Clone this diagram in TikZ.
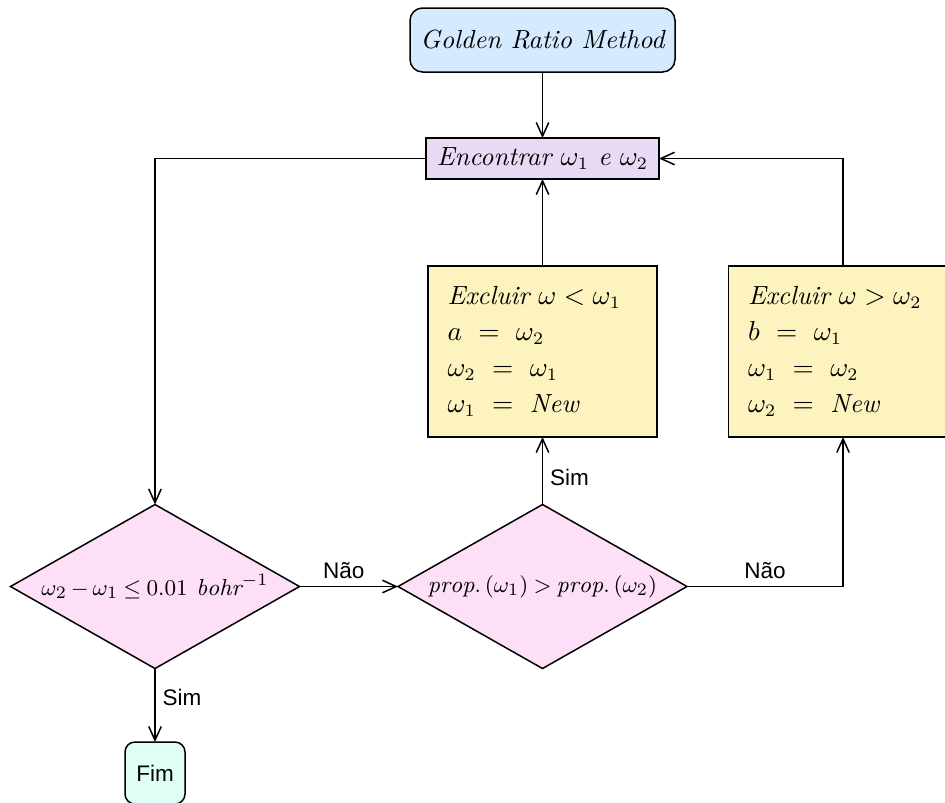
\documentclass[tikz,border=0pt]{standalone}
\usepackage{fontspec}
\setsansfont{Liberation Sans}
\usetikzlibrary{shapes.geometric,arrows.meta}

\definecolor{startblue}{RGB}{214,234,255}
\definecolor{findlilac}{RGB}{232,218,245}
\definecolor{boxyellow}{RGB}{252,243,190}
\definecolor{testpink}{RGB}{253,224,247}
\definecolor{endmint}{RGB}{224,255,246}

% narrower spacing around relations and binary operators
\newcommand{\tightmath}{\thickmuskip=4mu plus 2mu\relax\medmuskip=3mu plus 1mu\relax}

\tikzset{
  every node/.style={outer sep=0pt, line width=0.6pt},
  mtext/.style={font=\fontsize{10.5}{14.4}\selectfont\itshape},
  dtext/.style={font=\fontsize{9.3}{12}\selectfont\itshape},
  startbox/.style={draw, fill=startblue, rounded corners=5pt,
    minimum width=106pt, minimum height=25.6pt, mtext},
  findbox/.style={draw, fill=findlilac, minimum width=93.2pt,
    minimum height=16.4pt, inner sep=2pt, mtext},
  updbox/.style={draw, fill=boxyellow, minimum width=91.6pt,
    minimum height=68.4pt, text width=76pt, align=left,
    inner xsep=7.8pt, mtext},
  testbox/.style={draw, fill=testpink, shape=diamond, inner sep=0pt,
    minimum width=115.6pt, minimum height=65.6pt},
  endbox/.style={draw, fill=endmint, rounded corners=4pt,
    minimum width=24pt, minimum height=24.8pt,
    font=\sffamily\fontsize{9}{11}\selectfont},
  flow/.style={line width=0.6pt, -{Straight Barb[length=5.5pt,width=5pt]}},
  tag/.style={font=\sffamily\fontsize{9}{11}\selectfont, inner sep=1pt},
}

\begin{document}
\begin{tikzpicture}[x=0.4pt, y=-0.4pt]
  \useasboundingbox (0,0) rectangle (945,802);
  \clip (0,0) rectangle (945,802);

  % boxes
  \node[startbox] (start) at (542.5,40) {Golden Ratio Method};
  \node[findbox] (find) at (542.5,158.5) {Encontrar $\omega_1$ e $\omega_2$};
  \node[updbox] (low) at (542.5,351.5)
    {Excluir $\omega < \omega_1$\\
     $a\ =\ \omega_2$\\
     $\omega_2\ =\ \omega_1$\\
     $\omega_1\ =\ \mathit{New}$};
  \node[updbox] (high) at (843,351.5)
    {Excluir $\omega > \omega_2$\\
     $b\ =\ \omega_1$\\
     $\omega_1\ =\ \omega_2$\\
     $\omega_2\ =\ \mathit{New}$};

  % decisions
  \node[testbox, label={[dtext]center:$\tightmath\omega_2 - \omega_1 \leq 0.01\ \mathit{bohr}^{-1}$}]
    (conv) at (155,586.5) {};
  \node[testbox, label={[dtext]center:$\tightmath\mathit{prop.}\,(\omega_1) > \mathit{prop.}\,(\omega_2)$}]
    (cmp) at (542.5,586.5) {};

  \node[endbox] (stop) at (155,773) {Fim};

  % connectors
  \draw[flow] (start) -- (find);
  \draw[flow] (find.west) -| (conv.north);
  \draw[flow] (conv.east) -- node[tag, above=2pt, pos=0.45] {Não} (cmp.west);
  \draw[flow] (cmp.north) -- node[tag, right=2pt, pos=0.4] {Sim} (low.south);
  \draw[flow] (low.north) -- (find.south);
  \draw[flow] (cmp.east) -| node[tag, above=2pt, pos=0.25] {Não} (high.south);
  \draw[flow] (high.north) |- (find.east);
  \draw[flow] (conv.south) -- node[tag, right=2pt, pos=0.4] {Sim} (stop.north);
\end{tikzpicture}
\end{document}
